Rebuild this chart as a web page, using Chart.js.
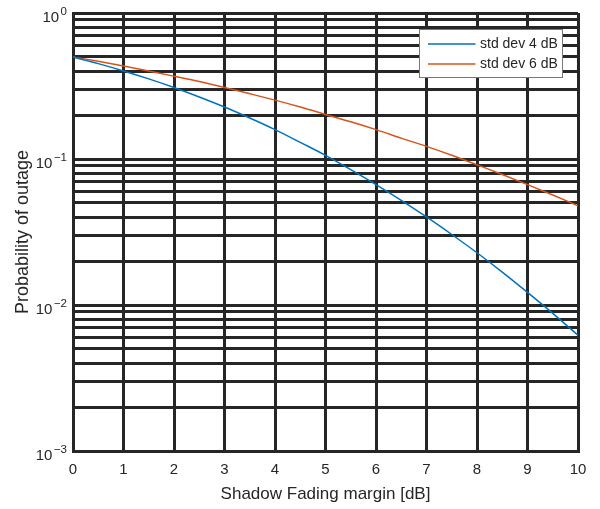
<!DOCTYPE html>
<html>
<head>
<meta charset="utf-8">
<script src="https://cdn.jsdelivr.net/npm/chart.js@4.4.0/dist/chart.umd.min.js"></script>
<style>
  html, body { margin: 0; padding: 0; background: #fff; }
  #outage { display: block; }
</style>
</head>
<body>
<canvas id="outage" width="600" height="509"></canvas>
<script>
// shadow fading margin [dB]
const margins = [0, 0.5, 1, 1.5, 2, 2.5, 3, 3.5, 4, 4.5, 5, 5.5, 6, 6.5, 7, 7.5, 8, 8.5, 9, 9.5, 10];
// probability of outage
const outage4dB = [0.500, 0.450, 0.401, 0.354, 0.309, 0.266, 0.227, 0.191, 0.159, 0.130, 0.106,
                   0.0846, 0.0668, 0.0521, 0.0401, 0.0304, 0.0228, 0.0168, 0.0122, 0.00877, 0.00621];
const outage6dB = [0.500, 0.467, 0.434, 0.401, 0.369, 0.339, 0.309, 0.280, 0.253, 0.227, 0.202,
                   0.180, 0.159, 0.139, 0.122, 0.106, 0.0912, 0.0783, 0.0668, 0.0567, 0.0478];
const seriesLabels = ['std dev 4 dB', 'std dev 6 dB'];
const seriesColors = ['#0072BD', '#D95319'];

const xTicks = [0, 1, 2, 3, 4, 5, 6, 7, 8, 9, 10];
const yDecades = [0.001, 0.01, 0.1, 1];
const yDecadeExp = ['\u22123', '\u22122', '\u22121', '0'];
const yMinorSteps = [1, 2, 3, 4, 5, 6, 7, 8, 9];

const fontFamily = "'Liberation Sans', Arial, Helvetica, sans-serif";
const textColor = '#262626';
const gridColor = '#262626';

// grid lines at 1..9 x 10^k
const yGrid = [];
yDecades.forEach(d => {
    if (d >= 1) { yGrid.push(d); return; }
    yMinorSteps.forEach(s => yGrid.push(+(d * s).toPrecision(3)));
});

const toPoints = (ys) => margins.map((x, i) => ({ x: x, y: ys[i] }));

// y tick labels as 10 with superscript exponent
const decadeLabels = {
    id: 'decadeLabels',
    afterDraw(chart) {
        const ctx = chart.ctx;
        const yScale = chart.scales.y;
        const right = chart.chartArea.left - 6;
        ctx.save();
        ctx.fillStyle = textColor;
        ctx.textBaseline = 'middle';
        ctx.textAlign = 'right';
        yDecades.forEach((v, i) => {
            const py = yScale.getPixelForValue(v);
            ctx.font = '11.5px ' + fontFamily;
            const expW = ctx.measureText(yDecadeExp[i]).width;
            ctx.fillText(yDecadeExp[i], right, py - 1.5);
            ctx.font = '15px ' + fontFamily;
            ctx.fillText('10', right - expW - 1.5, py + 4.5);
        });
        ctx.restore();
    }
};

// boxed legend in the top right corner
const boxLegend = {
    id: 'boxLegend',
    afterDraw(chart) {
        const ctx = chart.ctx;
        const area = chart.chartArea;
        const bx = area.right - 158.5, by = area.top + 16.5, bw = 143, bh = 48;
        ctx.save();
        ctx.fillStyle = '#ffffff';
        ctx.fillRect(bx, by, bw, bh);
        ctx.strokeStyle = '#777777';
        ctx.lineWidth = 1;
        ctx.strokeRect(bx, by, bw, bh);
        ctx.font = '14px ' + fontFamily;
        ctx.textBaseline = 'middle';
        ctx.textAlign = 'left';
        seriesLabels.forEach((label, i) => {
            const ry = Math.round(by + 14 + i * 20);
            ctx.strokeStyle = seriesColors[i];
            ctx.lineWidth = 1.5;
            ctx.beginPath();
            ctx.moveTo(bx + 8.5, ry);
            ctx.lineTo(bx + 56, ry);
            ctx.stroke();
            ctx.fillStyle = textColor;
            ctx.fillText(label, bx + 60.5, ry);
        });
        ctx.restore();
    }
};

new Chart(document.getElementById('outage'), {
    type: 'line',
    data: {
        datasets: [
            {
                label: seriesLabels[0],
                data: toPoints(outage4dB),
                borderColor: seriesColors[0],
                borderWidth: 1.5,
                pointRadius: 0,
                cubicInterpolationMode: 'monotone',
                fill: false
            },
            {
                label: seriesLabels[1],
                data: toPoints(outage6dB),
                borderColor: seriesColors[1],
                borderWidth: 1.5,
                pointRadius: 0,
                cubicInterpolationMode: 'monotone',
                fill: false
            }
        ]
    },
    options: {
        responsive: false,
        animation: false,
        devicePixelRatio: 1,
        layout: { padding: { left: 0, top: 13, right: 22, bottom: 0 } },
        plugins: {
            legend: { display: false },
            tooltip: { enabled: false }
        },
        scales: {
            x: {
                type: 'linear',
                min: 0,
                max: 10,
                afterBuildTicks: (s) => { s.ticks = xTicks.map(v => ({ value: v })); },
                afterFit: (s) => { s.height = 58; },
                grid: { color: gridColor, lineWidth: 3, drawTicks: false },
                border: { color: gridColor, width: 3 },
                ticks: {
                    autoSkip: false,
                    maxRotation: 0,
                    padding: 10,
                    color: textColor,
                    font: { family: fontFamily, size: 15 }
                },
                title: {
                    display: true,
                    text: 'Shadow Fading margin [dB]',
                    color: textColor,
                    font: { family: fontFamily, size: 17 },
                    padding: { top: 0, bottom: 4 }
                }
            },
            y: {
                type: 'logarithmic',
                min: 0.001,
                max: 1,
                afterBuildTicks: (s) => { s.ticks = yGrid.map(v => ({ value: v })); },
                afterFit: (s) => { s.width = 73; },
                grid: { color: gridColor, lineWidth: 3, drawTicks: false },
                border: { color: gridColor, width: 3 },
                ticks: {
                    autoSkip: false,
                    callback: () => '',
                    font: { family: fontFamily, size: 15 }
                },
                title: {
                    display: true,
                    text: 'Probability of outage',
                    color: textColor,
                    font: { family: fontFamily, size: 18 },
                    padding: { top: 12, bottom: 0 }
                }
            }
        }
    },
    plugins: [decadeLabels, boxLegend]
});
</script>
</body>
</html>
